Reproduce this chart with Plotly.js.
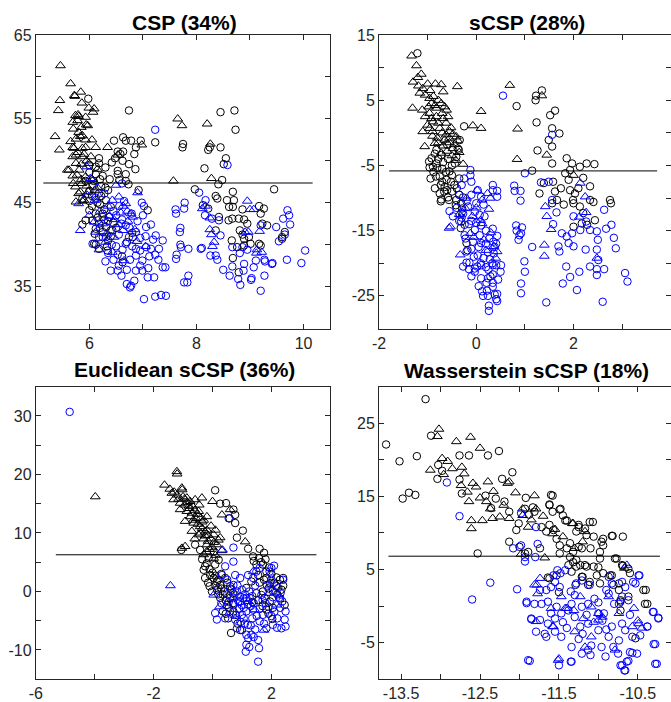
<!DOCTYPE html>
<html>
<head>
<meta charset="utf-8">
<script src="https://cdn.plot.ly/plotly-3.0.1.min.js"></script>
<style>html,body{margin:0;padding:0;background:#fff;}#chart{width:671px;height:702px;}</style>
</head>
<body>
<div id="chart"></div>
<script>
// ---------- Panel titles ----------
const panelTitles = ["CSP (34%)", "sCSP (28%)", "Euclidean sCSP (36%)", "Wasserstein sCSP (18%)"];

// ---------- Panel 1: CSP ----------
const cspBlackTri = [[5.46,61.35],[5.65,59.2],[5.72,57.8],[5.84,58.2],[5.45,57.2],[5.42,56.0],[5.86,56.9],[6.09,56.2],[6.07,55.8],[5.74,55.4],[5.80,55.3],[5.93,55.2],[5.69,54.6],[5.97,54.2],[5.36,52.9],[5.80,53.4],[5.87,53.0],[5.75,52.6],[6.05,52.5],[5.44,51.3],[5.69,51.6],[5.93,51.6],[6.12,51.6],[6.34,51.6],[5.69,50.5],[5.87,50.5],[5.75,49.7],[5.59,48.9],[5.81,48.9],[5.69,48.2],[6.53,50.7],[6.98,51.9],[5.86,47.3],[5.80,46.1],[5.75,45.1],[5.90,45.3],[7.57,47.6],[7.65,55.0],[7.73,54.2],[8.20,54.4],[8.26,52.0],[8.28,47.9],[5.73,57.7],[5.99,56.3],[5.79,55.5],[5.94,54.3],[5.83,52.9],[5.93,52.5],[5.71,51.5],[5.87,51.5],[5.75,50.7],[5.90,50.8],[6.03,50.5],[5.62,48.9],[5.99,49.7],[5.77,48.3],[5.93,48.1],[5.74,46.9],[5.83,46.3],[5.98,46.3],[5.87,45.2],[6.05,47.8],[6.15,49.0],[5.95,47.0],[6.10,46.5],[5.70,53.8],[5.78,54.8],[5.85,54.0],[5.65,52.3],[5.78,51.0],[5.95,50.0],[5.85,49.6],[5.70,47.3],[5.85,47.8]];
const cspBlackCirc = [[5.98,57.4],[6.74,56.0],[6.18,50.3],[6.18,49.7],[6.46,52.4],[6.63,52.8],[6.68,52.4],[6.78,52.4],[6.96,52.4],[6.53,51.1],[6.63,51.1],[6.87,51.6],[6.84,50.8],[6.62,50.0],[6.74,49.6],[6.86,49.0],[6.53,48.8],[6.53,48.4],[6.68,48.4],[6.56,47.7],[6.68,47.6],[6.73,47.2],[6.92,46.5],[7.09,44.1],[6.25,48.2],[6.12,48.4],[6.00,48.6],[5.93,47.6],[6.06,47.0],[6.00,46.4],[6.18,46.1],[6.31,45.3],[5.87,45.5],[6.00,44.1],[6.12,43.7],[6.25,43.7],[6.37,43.3],[6.06,42.9],[5.93,42.9],[5.87,42.4],[6.18,42.5],[6.31,42.1],[6.12,41.9],[6.43,41.7],[6.25,40.9],[6.09,40.1],[6.18,39.5],[6.34,39.3],[6.62,37.9],[6.81,40.9],[7.74,51.6],[7.23,52.2],[6.12,40.0],[6.33,39.8],[6.61,38.6],[6.80,41.4],[8.45,55.8],[8.71,56.0],[8.73,53.7],[7.75,52.0],[8.25,51.6],[8.22,51.3],[8.45,51.6],[8.55,50.3],[8.51,49.6],[8.15,49.1],[8.48,47.7],[8.41,47.2],[7.97,46.6],[9.45,46.6],[8.68,46.3],[8.36,45.8],[8.39,45.5],[8.57,45.3],[8.70,45.3],[8.12,44.7],[8.22,44.3],[8.61,44.5],[8.68,44.5],[8.86,44.2],[9.17,44.6],[9.26,44.3],[9.20,43.7],[8.42,43.3],[8.60,42.9],[8.67,43.1],[8.79,43.1],[8.89,43.0],[8.95,42.5],[9.23,42.5],[9.32,42.3],[8.36,41.7],[9.65,41.5],[9.60,40.9],[8.81,41.7],[8.86,41.2],[8.89,40.7],[8.98,40.9],[8.66,40.5],[9.01,40.1],[9.17,40.1],[9.20,39.9],[8.76,39.7],[8.68,38.4],[8.79,36.7],[8.89,39.9],[9.60,40.7],[6.20,44.8],[6.28,44.2],[6.15,45.0],[6.40,44.5],[6.22,47.0],[6.30,46.8],[6.05,45.8],[6.45,42.6],[6.35,40.5],[6.70,40.3],[6.05,44.6],[6.15,43.2],[6.22,45.8],[6.35,46.5],[6.00,45.2],[6.10,41.3],[6.25,41.5],[6.40,41.0],[6.28,43.0],[6.50,42.0],[6.20,47.8],[6.08,47.6],[6.38,47.8],[6.30,49.2],[6.42,49.8],[6.48,50.3],[6.58,50.8],[6.12,49.3],[6.00,49.5]];
const cspBlueCirc = [[7.23,53.7],[6.61,47.3],[6.98,45.0],[7.02,44.6],[7.15,42.4],[7.06,42.1],[6.87,41.5],[6.74,40.9],[7.24,41.1],[7.37,40.5],[7.19,40.6],[7.06,39.7],[6.87,39.5],[6.62,39.4],[6.53,38.8],[6.76,38.2],[6.99,38.1],[7.12,38.6],[7.23,38.8],[7.29,38.2],[7.37,37.3],[7.42,37.3],[6.40,36.9],[6.53,36.9],[6.87,36.9],[6.99,36.9],[7.09,36.1],[7.21,36.1],[6.84,35.7],[6.78,35.1],[6.76,34.9],[7.02,33.5],[7.23,33.8],[7.34,34.0],[7.43,33.9],[6.61,43.0],[6.68,42.3],[6.40,41.7],[6.31,40.9],[6.18,40.9],[6.06,40.1],[6.50,39.8],[6.68,40.1],[6.25,43.3],[6.28,46.1],[6.12,45.6],[6.56,44.6],[6.79,43.7],[7.77,44.3],[7.62,43.7],[7.69,41.5],[7.71,39.7],[7.62,38.3],[7.77,35.5],[6.87,38.7],[8.58,49.5],[7.78,45.0],[8.17,45.3],[8.16,43.5],[8.42,42.9],[8.29,43.1],[8.45,41.1],[7.70,42.0],[7.70,40.0],[7.85,39.5],[8.08,39.5],[8.26,38.7],[8.36,38.7],[8.39,38.2],[8.50,37.0],[8.62,36.3],[8.78,35.9],[8.82,35.2],[9.02,35.8],[9.20,34.5],[9.27,36.3],[9.07,37.3],[9.11,38.1],[9.28,38.0],[9.41,37.7],[9.69,38.2],[9.96,37.8],[10.03,39.3],[9.54,40.4],[9.49,42.1],[9.65,41.2],[9.75,42.4],[9.70,44.1],[9.62,43.1],[9.20,42.3],[8.67,39.7],[8.81,39.0],[8.89,37.7],[8.67,37.4],[8.86,39.7],[8.95,39.4],[7.83,35.5],[7.85,36.3],[9.73,43.5],[9.27,38.2],[9.42,37.8],[8.88,36.9],[9.03,36.0],[8.10,39.6],[7.61,44.2],[7.63,38.8],[8.05,46.2],[6.45,44.0],[6.35,42.8],[6.55,41.2],[6.20,42.0],[6.65,45.2],[6.42,40.0],[6.90,42.8],[6.95,40.8],[7.05,41.0],[6.60,36.3],[6.70,35.3],[6.35,39.0],[6.55,37.5],[6.70,37.0],[6.95,37.5],[7.10,37.2],[6.80,39.8],[6.95,39.3],[7.15,39.5],[6.45,38.2],[6.30,38.0],[6.60,42.5],[6.75,42.0],[6.50,43.5],[7.30,39.5],[7.00,43.5]];
const cspBlueTri = [[5.83,41.7],[5.95,49.3],[6.50,47.1],[6.90,46.2],[6.55,45.7],[6.43,45.3],[6.63,44.6],[6.71,44.0],[6.78,43.7],[6.81,43.3],[6.59,43.8],[6.37,43.4],[6.25,42.5],[6.09,42.7],[6.12,41.5],[6.32,41.3],[6.46,40.9],[6.63,41.7],[6.18,39.4],[6.43,39.1],[6.65,38.1],[6.68,44.9],[6.46,43.0],[7.05,39.8],[6.89,40.4],[6.02,47.9],[6.10,45.3],[5.96,45.9],[5.80,44.9],[8.95,45.2],[9.07,44.2],[9.18,41.6],[8.97,41.5],[8.91,41.5],[8.17,44.6],[8.25,43.2],[8.25,41.8],[8.28,41.2],[8.30,39.8],[8.33,40.3],[8.11,44.3],[9.12,39.0],[9.22,39.1],[9.0,44.2],[9.13,39.4],[6.20,44.0],[6.35,44.6],[6.30,40.3],[6.55,42.4],[6.72,42.8],[6.85,41.8],[6.00,43.5],[6.15,46.8]];
const cspLineX = [5.14, 10.17];
const cspLineY = [47.35, 47.35];

// ---------- Panel 2: sCSP ----------
const scspBlackTri = [[-1.33,11.8],[-1.23,10.3],[-1.13,9.0],[-1.30,7.8],[-1.00,7.5],[-0.84,7.5],[-0.72,7.4],[-0.39,7.1],[-1.19,7.2],[-1.16,6.1],[-0.68,6.3],[-0.96,5.3],[-0.92,4.5],[-1.31,3.8],[-1.11,3.5],[-0.82,3.8],[-0.61,3.5],[0.10,3.3],[-0.96,3.0],[-0.82,2.5],[-0.68,2.2],[-0.07,1.1],[0.10,0.7],[-0.89,1.7],[-0.96,0.7],[-0.75,0.7],[-0.55,0.2],[-0.41,-0.6],[-1.06,-2.1],[-0.85,-1.6],[-0.65,-1.1],[-0.72,-3.1],[-0.48,-2.4],[-0.27,-4.8],[0.84,-4.06],[0.85,0.6],[0.69,7.3],[1.45,-3.4],[1.35,5.7],[2.0,-6.5],[-1.0,1.2],[-0.9,-0.5],[-0.78,-1.5],[-0.6,-2.8],[-0.55,-0.8],[-0.5,-3.5],[-0.7,0.0],[-0.62,1.5],[-1.1,0.2],[-0.45,-1.8],[-0.85,4.2],[-1.2,8.5],[-1.1,6.8],[-1.05,5.8],[-0.95,6.5],[-0.88,5.6],[-0.78,5.0],[-0.72,4.5],[-0.65,4.0],[-0.98,4.0],[-1.05,2.5],[-0.92,2.2],[-0.78,1.5],[-0.7,3.0],[-0.58,2.5],[-0.52,0.8],[-0.48,-0.2],[-0.38,-1.2],[-0.35,-3.0],[-0.42,-4.2],[-0.9,0.2],[-0.8,-0.8],[-0.62,-0.3],[-0.68,-2.0],[-0.55,-1.5]];
const scspBlackCirc = [[-1.21,12.2],[-0.25,1.0],[0.83,4.1],[1.24,1.6],[1.22,5.0],[1.23,5.7],[1.35,6.5],[1.26,-2.7],[1.52,2.7],[1.62,3.4],[1.56,0.7],[1.71,-0.1],[1.49,-1.1],[1.56,-2.1],[1.56,-4.7],[1.15,-5.8],[1.30,-9.3],[1.39,-7.7],[1.58,-7.5],[1.62,-9.0],[1.66,-10.3],[1.56,-10.8],[1.80,-11.0],[1.74,-8.5],[1.90,-7.2],[1.86,-3.9],[1.97,-4.7],[1.93,-5.7],[1.83,-6.2],[2.13,-5.2],[2.27,-4.7],[2.43,-4.8],[2.20,-6.9],[1.93,-8.8],[2.03,-9.3],[2.10,-8.5],[1.99,-10.3],[2.0,-10.8],[2.13,-11.3],[2.34,-8.2],[2.34,-10.3],[2.2,-12.3],[2.17,-13.9],[2.0,-14.4],[2.28,-14.1],[2.44,-13.4],[2.41,-10.6],[2.75,-10.3],[2.77,-10.8],[-0.92,-3.9],[-0.89,-5.2],[-0.96,-5.3],[-0.82,-4.7],[-0.75,-6.7],[-0.61,-7.2],[-0.65,-8.3],[-0.75,-9.3],[-0.72,-10.2],[-0.58,-9.9],[-0.41,-10.3],[-0.31,-10.8],[-0.27,-9.9],[-0.55,-5.9],[-0.44,-4.7],[-0.34,-1.1],[-0.38,-2.4],[-0.41,-3.7],[-0.31,-13.6],[-0.20,-16.9],[-0.82,-2.6],[-0.72,-3.4],[-0.94,-7.0],[-0.83,-6.7],[-0.73,-8.0],[-0.80,-5.4],[-0.66,-9.0],[-0.73,-10.5],[-0.56,-10.3],[-0.42,-11.1],[-0.29,-11.6],[-0.32,-14.6],[-0.18,-18.0],[-0.97,-4.4],[-0.36,-2.6],[-0.5,-6.5],[-0.45,-8.0],[-0.6,-1.8],[-0.7,-5.5],[-0.35,-7.0],[-0.85,-3.2],[-0.78,-4.0],[-0.68,-4.5],[-0.58,-4.0],[-0.5,-5.0],[-0.62,-6.0],[-0.52,-7.5],[-0.4,-8.5],[-0.5,-9.0],[-0.6,-8.8],[-0.35,-9.5],[-0.3,-12.2],[-0.85,-8.5],[-0.88,-6.0],[-0.7,-7.5]];
const scspBlueCirc = [[0.55,5.7],[-0.12,-6.5],[1.0,-6.2],[0.79,-8.9],[0.91,-10.4],[0.43,-9.8],[0.34,-8.8],[0.03,-8.8],[0.83,-15.0],[0.87,-16.4],[0.92,-15.4],[1.15,-17.5],[1.0,-21.3],[0.92,-24.6],[1.49,-7.5],[1.33,-7.6],[1.56,-10.3],[1.58,-14.0],[1.65,-12.2],[1.76,-15.4],[1.69,-17.4],[1.71,-18.2],[1.85,-20.5],[1.78,-23.1],[1.93,-22.1],[2.07,-24.1],[2.12,-21.3],[2.0,-17.4],[1.97,-15.4],[2.0,-12.8],[2.25,-17.9],[2.34,-20.5],[2.48,-21.8],[2.48,-20.9],[2.51,-19.5],[2.48,-17.9],[2.48,-15.1],[2.5,-16.4],[2.63,-20.9],[2.6,-25.9],[2.67,-14.7],[2.63,-11.8],[2.78,-14.1],[2.83,-16.1],[2.87,-17.7],[3.06,-21.5],[3.11,-22.8],[2.34,-14.9],[2.26,-13.6],[2.14,-14.9],[1.86,-15.9],[1.9,-16.9],[1.44,-26.0],[1.56,-0.3],[-0.12,-5.7],[-0.10,-7.5],[0.34,-8.0],[0.43,-8.9],[0.78,-8.1],[0.91,-8.9],[0.82,-14.2],[0.94,-14.5],[0.89,-15.7],[0.99,-19.7],[0.92,-23.1],[-0.48,-12.8],[-0.17,-11.3],[-0.03,-12.1],[0.07,-12.6],[0.17,-12.8],[-0.24,-14.1],[-0.03,-14.9],[0.07,-15.7],[-0.07,-16.7],[0.10,-16.9],[0.27,-16.2],[0.34,-14.7],[0.38,-17.5],[0.24,-18.3],[0.03,-18.8],[-0.14,-19.9],[-0.20,-19.9],[-0.03,-20.8],[0.10,-20.3],[0.20,-20.6],[0.34,-20.3],[0.41,-20.3],[0.51,-20.3],[0.10,-22.3],[0.24,-22.3],[0.34,-21.7],[0.34,-23.0],[0.12,-24.3],[0.22,-24.2],[0.38,-24.8],[0.43,-24.7],[0.26,-26.5],[-0.27,-12.4],[-0.24,-15.7],[-0.22,-16.2],[-0.27,-20.5],[-0.15,-20.9],[-0.03,-21.3],[0.02,-20.5],[0.09,-20.0],[0.28,-19.4],[0.35,-16.7],[0.43,-15.8],[0.41,-17.0],[0.36,-18.5],[0.33,-20.0],[0.5,-21.3],[0.29,-22.0],[0.21,-23.0],[0.34,-23.6],[0.14,-25.0],[0.24,-25.0],[0.41,-25.5],[0.43,-25.8],[0.26,-27.3],[-0.35,-9.5],[-0.2,-10.5],[-0.1,-13.5],[0.0,-10.8],[-0.4,-11.5],[-0.55,-12.0],[-0.3,-8.0],[0.15,-11.0],[-0.3,-13.0],[-0.15,-14.0],[0.0,-13.8],[0.1,-14.2],[0.2,-15.0],[-0.1,-17.8],[0.05,-17.5],[0.2,-17.0],[-0.05,-19.0],[0.15,-19.2],[0.25,-21.0],[-0.1,-22.0],[0.05,-23.5],[0.45,-22.5],[-0.2,-18.2],[-0.35,-13.5],[-0.1,-9.5],[0.1,-9.8],[-0.25,-7.0]];
const scspBlueTri = [[0.02,-8.8],[0.23,-9.3],[0.12,-10.3],[0.26,-11.7],[0.29,-10.0],[-0.53,-14.4],[-0.56,-14.6],[-0.33,-18.7],[0.09,-13.4],[0.12,-13.9],[-0.08,-12.8],[0.36,-17.4],[0.40,-19.2],[0.43,-18.2],[-0.22,-11.6],[0.16,-16.4],[-0.12,-15.4],[1.42,-11.3],[1.45,-12.8],[1.54,-14.8],[1.40,-17.2],[1.40,-18.9],[2.14,-7.7],[2.24,-9.8],[2.26,-12.2],[2.12,-12.9],[2.48,-19.2],[-0.2,-10.0],[0.0,-11.5],[-0.35,-12.5],[0.3,-15.3],[0.2,-18.0],[-0.05,-16.0]];
const scspLineX = [-1.79, 3.72];
const scspLineY = [-5.84, -5.84];

// ---------- Panel 3: Euclidean sCSP ----------
const eucBlackTri = [[-3.98,16.2],[-1.21,20.5],[-1.20,20.1],[-1.63,18.2],[-1.38,16.8],[-1.04,17.7],[-1.03,17.4],[-1.32,15.7],[-1.10,15.1],[-0.87,16.0],[-0.76,15.4],[-0.59,15.7],[-0.36,16.0],[0.0,15.4],[-1.10,14.0],[-0.87,13.7],[-0.70,13.4],[-0.47,13.7],[-0.19,12.8],[-0.93,12.0],[-0.64,11.7],[-0.42,11.1],[-0.19,10.5],[-0.70,10.3],[-0.47,9.7],[0.04,9.7],[0.26,9.2],[0.15,8.0],[1.11,8.5],[-0.93,7.7],[-1.04,7.4],[-0.19,8.0],[-0.30,6.3],[0.04,5.7],[0.32,7.0],[0.60,14.0],[0.32,13.1],[-0.8,14.6],[-0.55,12.5],[-0.35,11.9],[-0.6,9.0],[-0.25,9.5],[-0.1,7.2],[-0.45,14.8],[-0.95,15.8],[-1.45,17.5],[-1.3,17.0],[-1.2,16.5],[-1.15,15.8],[-1.0,16.2],[-0.95,14.8],[-0.85,15.2],[-0.78,14.2],[-0.68,14.6],[-0.6,13.9],[-0.52,13.2],[-0.4,12.6],[-0.3,12.2],[-0.75,12.8],[-0.65,12.2],[-0.5,11.5],[-0.35,10.8],[-0.25,10.2],[-0.15,9.6],[-0.05,9.0],[0.05,8.4],[-0.4,10.0],[-0.3,9.0],[-0.15,8.6],[0.1,10.5],[-0.05,11.2],[0.2,8.8],[0.0,7.5],[-0.2,6.8],[0.1,6.2]];
const eucBlackCirc = [[0.09,17.3],[0.26,15.0],[0.46,15.1],[0.71,14.0],[0.77,13.1],[0.58,12.5],[0.77,11.7],[1.03,10.4],[0.83,9.2],[1.21,7.3],[1.38,6.0],[1.60,7.3],[1.75,6.6],[1.58,5.7],[1.49,4.6],[1.71,4.6],[1.92,4.1],[1.83,3.4],[1.55,2.8],[1.83,2.3],[1.95,1.4],[2.17,2.4],[2.29,2.0],[2.40,2.3],[2.17,0.9],[2.34,0.3],[2.05,0.1],[1.71,0.0],[1.49,-0.3],[1.77,-1.1],[1.95,-1.7],[2.05,-2.8],[1.83,-3.1],[2.03,-4.7],[2.45,-2.3],[1.35,-1.8],[1.15,0.6],[1.32,1.7],[-0.59,8.0],[-0.42,7.1],[-0.25,4.3],[-0.08,2.8],[-0.10,0.9],[0.04,2.3],[0.15,1.7],[0.26,1.1],[0.43,2.3],[0.40,0.0],[0.26,-1.1],[0.60,-1.1],[0.49,-2.3],[0.35,-3.4],[0.71,-3.4],[0.63,-7.1],[0.94,-6.6],[-0.30,3.7],[-0.13,5.7],[0.09,4.6],[0.21,5.4],[0.04,6.8],[-0.25,2.3],[-0.02,0.0],[0.15,0.3],[0.60,0.9],[0.69,-0.3],[0.53,-4.6],[-1.06,7.1],[-0.35,5.5],[-0.2,4.8],[-0.1,3.8],[0.0,3.2],[0.1,2.7],[0.2,2.0],[0.3,0.5],[0.35,-0.5],[0.45,-1.5],[0.55,-2.8],[0.2,-0.5],[0.1,1.0],[-0.15,1.5],[0.3,3.0],[0.5,1.5],[0.65,0.3],[0.7,-2.0],[0.8,-4.0],[0.45,-3.8],[0.85,-5.5],[1.4,5.2],[1.65,5.0],[1.8,5.5],[2.0,3.0],[2.1,1.5],[1.9,0.5],[2.2,-0.5],[1.6,1.5],[1.75,2.0],[2.3,-1.2],[1.55,-1.5],[1.7,-2.5],[1.9,-3.8],[2.4,1.0]];
const eucBlueCirc = [[-4.85,30.7],[0.55,12.5],[0.71,7.5],[0.43,4.3],[0.32,2.8],[0.77,2.8],[0.94,2.3],[0.71,1.1],[1.0,0.3],[1.15,-1.1],[0.94,-1.7],[0.71,-2.3],[0.60,-3.4],[0.43,-4.6],[0.77,-4.8],[1.06,-4.6],[1.20,-5.7],[1.0,-6.6],[1.15,-7.4],[1.21,-8.0],[1.32,-7.4],[1.15,-9.1],[1.13,-10.3],[1.55,-8.3],[1.58,-9.7],[1.55,-12.0],[1.35,-4.6],[1.60,-5.1],[1.71,-4.0],[1.83,-6.3],[2.05,-5.7],[2.19,-6.2],[2.34,-6.3],[2.48,-6.0],[2.45,-4.8],[2.48,-3.4],[2.37,-1.7],[2.26,-1.1],[2.05,-1.0],[2.0,4.0],[2.09,4.4],[1.94,3.4],[1.60,4.0],[1.49,3.4],[1.38,2.3],[1.21,2.8],[2.40,2.0],[2.31,-0.3],[2.23,0.6],[1.66,-0.6],[0.71,5.1],[0.15,-4.8],[0.09,-3.7],[0.83,-6.3],[1.38,-3.1],[0.88,-1.7],[1.06,-2.8],[1.15,-3.4],[0.99,-2.3],[1.26,-1.1],[0.83,0.0],[0.94,-0.9],[1.1,-0.5],[1.3,-2.5],[0.5,-0.5],[1.45,-6.5],[1.25,-9.5],[1.8,-2.0],[2.1,-3.5],[0.6,0.5],[0.75,-0.5],[0.85,1.0],[0.9,-3.0],[1.0,-4.0],[1.05,-1.2],[1.2,-2.2],[1.25,0.0],[1.35,-0.8],[1.4,-2.0],[1.45,1.0],[1.5,-4.2],[1.1,-5.5],[0.95,-5.2],[0.7,-4.0],[0.55,-1.8],[1.3,-5.8],[1.4,-7.8],[1.6,-3.0],[1.7,-1.5],[1.9,-2.6],[2.0,-4.2],[2.2,-4.6],[2.3,-2.8],[2.0,2.0],[2.15,-0.2],[1.85,1.0],[1.75,-5.5],[0.5,2.0],[0.3,-2.0],[0.2,0.5]];
const eucBlueTri = [[-1.43,1.0],[0.34,7.1],[0.04,-0.6],[0.24,-2.6],[1.43,-3.1],[1.75,-6.6],[1.92,-0.3],[0.71,-1.1],[1.21,-1.7],[2.17,-2.3],[1.38,3.4],[1.96,1.1]];
const eucLineX = [-5.32, 3.53];
const eucLineY = [6.27, 6.27];

// ---------- Panel 4: Wasserstein sCSP ----------
const wasBlackCirc = [[-13.19,28.3],[-13.69,22.1],[-13.52,19.8],[-13.30,20.5],[-13.48,14.7],[-13.40,15.5],[-13.32,15.2],[-13.12,23.3],[-13.03,19.3],[-13.04,17.4],[-12.98,18.5],[-12.76,20.6],[-12.76,17.3],[-12.73,15.4],[-12.64,20.6],[-12.40,20.6],[-12.26,21.2],[-12.53,7.2],[-12.43,15.1],[-12.36,13.4],[-12.22,17.4],[-12.09,18.3],[-12.30,14.7],[-12.19,14.3],[-12.13,12.9],[-12.13,8.8],[-12.0,8.1],[-11.93,7.2],[-11.89,7.4],[-12.04,10.4],[-12.01,11.3],[-11.93,13.3],[-11.92,14.8],[-11.88,12.5],[-11.83,13.5],[-11.81,12.9],[-11.58,15.1],[-11.62,13.9],[-11.58,12.9],[-11.48,13.3],[-11.45,12.4],[-11.40,11.7],[-11.62,11.1],[-11.57,10.4],[-11.66,10.2],[-11.72,10.8],[-11.74,7.9],[-11.53,9.2],[-11.49,8.3],[-11.40,7.9],[-11.32,7.4],[-11.36,8.6],[-11.28,6.3],[-11.28,10.2],[-11.25,11.1],[-11.17,10.6],[-11.15,9.7],[-11.07,11.5],[-11.06,9.5],[-11.10,7.9],[-10.96,8.8],[-10.94,9.2],[-10.98,7.4],[-10.98,6.5],[-10.82,9.6],[-10.69,9.5],[-10.77,6.5],[-10.69,5.5],[-10.60,4.5],[-10.83,4.2],[-10.94,4.5],[-11.06,5.4],[-11.17,5.6],[-11.28,5.4],[-11.32,6.0],[-11.34,4.7],[-11.20,4.0],[-11.11,3.3],[-10.98,3.1],[-10.74,3.1],[-10.62,1.3],[-10.72,0.6],[-10.72,-0.6],[-10.40,2.2],[-10.38,0.3],[-10.53,-4.4],[-11.53,4.2],[-11.50,1.9],[-11.62,3.8],[-11.60,15.2],[-11.62,13.8],[-11.49,13.2],[-11.42,11.7],[-11.25,10.8],[-11.11,11.5],[-10.83,9.6],[-10.94,8.3],[-11.21,7.9],[-10.79,6.5],[-10.70,5.6],[-10.62,5.1],[-10.43,2.2],[-10.41,0.3],[-10.85,4.2],[-11.02,4.2],[-11.13,2.9],[-11.21,4.0],[-11.29,2.9],[-11.64,3.9],[-11.38,5.6],[-11.23,5.6],[-11.15,5.4],[-11.0,5.3],[-10.81,2.9],[-10.74,2.2],[-10.72,0.8],[-11.36,6.7],[-11.49,7.2],[-11.25,8.1]];
const wasBlackTri = [[-13.02,24.2],[-13.04,23.2],[-13.13,18.6],[-12.98,20.2],[-12.91,19.8],[-12.96,18.0],[-12.80,22.5],[-12.62,23.1],[-12.50,21.6],[-12.73,19.0],[-12.70,18.1],[-12.74,16.5],[-12.66,15.6],[-12.59,16.8],[-12.55,16.3],[-12.64,14.3],[-12.61,11.7],[-12.61,10.6],[-12.47,11.7],[-12.40,17.0],[-12.33,15.7],[-12.42,14.3],[-12.37,13.3],[-12.34,12.0],[-12.25,12.2],[-12.13,12.0],[-12.13,17.0],[-11.96,13.3],[-11.96,12.4],[-11.89,10.8],[-11.98,7.1],[-11.81,15.1],[-11.79,13.3],[-11.68,6.6],[-11.33,11.3],[-11.17,10.2],[-11.30,7.9],[-10.67,5.2],[-11.58,9.9],[-11.32,11.3],[-12.85,18.8],[-12.5,14.8],[-12.2,13.8],[-12.05,15.5],[-11.85,11.8],[-11.7,12.3],[-11.55,10.5],[-11.45,9.5],[-11.2,8.8],[-12.15,16.8]];
const wasBlueCirc = [[-12.92,16.9],[-12.76,12.3],[-11.98,12.7],[-11.79,10.8],[-12.08,7.9],[-11.93,6.1],[-12.37,3.2],[-12.60,0.9],[-12.03,2.3],[-11.91,0.4],[-11.85,-1.8],[-11.87,-7.5],[-11.77,8.5],[-11.50,-8.1],[-11.35,-7.6],[-10.72,-8.1],[-10.67,-8.8],[-10.62,-7.5],[-10.51,-6.5],[-10.60,-6.3],[-10.28,-5.2],[-10.24,-1.6],[-10.31,-0.8],[-10.26,-7.9],[-10.48,4.2],[-10.56,3.3],[-10.38,-2.8],[-11.98,8.3],[-11.52,4.9],[-11.48,4.5],[-11.42,4.9],[-11.57,4.2],[-11.55,3.3],[-11.49,2.6],[-11.60,2.6],[-11.66,2.2],[-11.74,2.2],[-11.28,3.1],[-11.21,3.5],[-11.11,2.9],[-10.87,4.0],[-10.83,3.1],[-10.70,3.3],[-10.66,2.6],[-10.49,4.2],[-10.53,3.1],[-10.70,1.3],[-10.62,0.8],[-10.74,0.3],[-10.87,1.7],[-11.13,0.3],[-11.21,-0.1],[-11.34,0.3],[-11.38,-0.6],[-11.47,-1.0],[-11.53,-0.1],[-11.64,0.6],[-11.72,0.3],[-11.81,0.3],[-11.91,0.6],[-11.85,-1.7],[-11.74,-1.9],[-11.64,-2.4],[-11.55,-1.7],[-11.23,-2.8],[-11.13,-2.4],[-11.0,-3.3],[-10.87,-4.2],[-10.83,-2.8],[-10.70,-2.4],[-10.66,-3.3],[-10.57,-4.2],[-10.47,-4.0],[-10.38,-2.8],[-10.30,-0.8],[-10.24,-1.7],[-10.74,-4.7],[-10.81,-5.6],[-10.96,-5.6],[-11.09,-5.4],[-11.13,-6.0],[-11.21,-6.5],[-11.34,-5.6],[-11.47,-4.2],[-11.55,-3.5],[-11.66,-4.2],[-11.68,-3.8],[-11.79,-3.5],[-11.89,-7.4],[-11.34,-7.6],[-11.10,-6.7],[-10.91,-6.9],[-10.70,-8.1],[-10.66,-8.8],[-10.64,-7.6],[-10.57,-6.4],[-10.30,-5.2],[-10.28,-7.9],[-11.0,-1.0],[-10.93,-1.0],[-11.93,6.7],[-11.80,6.7],[-11.3,1.5],[-11.05,1.0],[-10.95,-2.0],[-11.4,-3.0],[-11.25,-4.5],[-10.9,2.2],[-11.15,-1.2],[-11.45,-2.2],[-11.3,-1.5],[-11.2,-3.8],[-10.9,-3.2],[-10.8,0.3],[-11.0,0.5],[-11.35,2.0],[-11.6,-1.0],[-10.6,-1.2],[-10.75,-6.5]];
const wasBlueTri = [[-11.81,2.9],[-11.77,1.7],[-11.60,-0.3],[-11.47,1.3],[-11.23,1.3],[-11.09,-0.1],[-11.0,-1.0],[-11.57,-2.8],[-11.42,-0.3],[-11.31,-0.6],[-11.19,-1.7],[-11.06,-2.2],[-10.95,-1.5],[-10.74,-1.0],[-10.55,-0.3],[-10.49,-2.4],[-10.57,-2.8],[-11.17,-5.6],[-10.79,-6.0],[-11.30,-3.5],[-11.51,-7.4],[-11.09,-4.2],[-11.00,-1.9],[-10.87,1.3],[-11.50,-7.2],[-11.79,-2.1],[-11.58,-2.8],[-11.78,2.9],[-11.74,3.8],[-11.40,-0.3],[-10.64,5.6],[-10.45,-3.0],[-10.5,-2.0]];
const wasLineX = [-13.66, -10.22];
const wasLineY = [6.82, 6.82];

// ---------- Axis ticks (labels on every other tick) ----------
const p1XTicks = [5,6,7,8,9,10];        const p1XLabels = ["","6","","8","","10"];
const p1YTicks = [30,35,40,45,50,55,60,65]; const p1YLabels = ["","35","","45","","55","","65"];
const p2XTicks = [-2,-1,0,1,2,3,4];     const p2XLabels = ["-2","","0","","2","","4"];
const p2YTicks = [-30,-25,-20,-15,-10,-5,0,5,10,15]; const p2YLabels = ["","-25","","-15","","-5","","5","","15"];
const p3XTicks = [-6,-4,-2,0,2,4];      const p3XLabels = ["-6","","-2","","2",""];
const p3YTicks = [-15,-10,-5,0,5,10,15,20,25,30,35]; const p3YLabels = ["","-10","","0","","10","","20","","30",""];
const p4XTicks = [-13.5,-13,-12.5,-12,-11.5,-11,-10.5]; const p4XLabels = ["-13.5","","-12.5","","-11.5","","-10.5"];
const p4YTicks = [-10,-5,0,5,10,15,20,25,30]; const p4YLabels = ["","-5","","5","","15","","25",""];

// ---------- Build traces ----------
const BLACK = "#000000", BLUE = "#0000ff";
function markers(arr, ax, symbol, color, size) {
  return {type: "scatter", mode: "markers", xaxis: "x" + ax, yaxis: "y" + ax,
    x: arr.map(p => p[0]), y: arr.map(p => p[1]), hoverinfo: "skip",
    marker: {symbol: symbol, size: size, color: color, line: {color: color, width: 1}}};
}
function hline(xs, ys, ax) {
  return {type: "scatter", mode: "lines", xaxis: "x" + ax, yaxis: "y" + ax, x: xs, y: ys,
    line: {color: "#000000", width: 1}, hoverinfo: "skip"};
}
const panels = [
  {ax: "", bc: cspBlackCirc, bt: cspBlackTri, uc: cspBlueCirc, ut: cspBlueTri, lx: cspLineX, ly: cspLineY},
  {ax: "2", bc: scspBlackCirc, bt: scspBlackTri, uc: scspBlueCirc, ut: scspBlueTri, lx: scspLineX, ly: scspLineY},
  {ax: "3", bc: eucBlackCirc, bt: eucBlackTri, uc: eucBlueCirc, ut: eucBlueTri, lx: eucLineX, ly: eucLineY},
  {ax: "4", bc: wasBlackCirc, bt: wasBlackTri, uc: wasBlueCirc, ut: wasBlueTri, lx: wasLineX, ly: wasLineY}
];
const traces = [];
panels.forEach(p => {
  traces.push(markers(p.bc, p.ax, "circle-open", BLACK, 7.5));
  traces.push(markers(p.bt, p.ax, "triangle-up-open", BLACK, 8.5));
  traces.push(markers(p.uc, p.ax, "circle-open", BLUE, 7.5));
  traces.push(markers(p.ut, p.ax, "triangle-up-open", BLUE, 8.5));
  traces.push(hline(p.lx, p.ly, p.ax));
});

const AXC = "#262626";
const tickFont = {family: "Liberation Sans, Arial, Helvetica, sans-serif", size: 16, color: AXC};
function axis(domain, range, vals, text, anchor) {
  return {domain: domain, range: range, tickmode: "array", tickvals: vals, ticktext: text,
    ticks: "inside", ticklen: 5, tickwidth: 1, tickcolor: AXC, showline: true, linecolor: AXC,
    linewidth: 1, mirror: "ticks", showgrid: false, zeroline: false, tickfont: tickFont,
    anchor: anchor, fixedrange: true};
}
const W = 671, H = 702;
const colL = [35.8 / W, 330.3 / W], colR = [379 / W, 1];
const rowT = [1 - 328.5 / H, 1 - 35 / H], rowB = [1 - 679.2 / H, 1 - 386.7 / H];

const titleFont = {family: "Liberation Sans, Arial, Helvetica, sans-serif", size: 21, color: "#000000", weight: "bold"};
function titleAnn(text, xpx, ypx) {
  return {text: text, xref: "paper", yref: "paper", x: xpx / W, y: 1 - ypx / H,
    xanchor: "center", yanchor: "middle", showarrow: false, font: titleFont};
}

const layout = {
  width: W, height: H, margin: {l: 0, r: 0, t: 0, b: 0},
  paper_bgcolor: "#ffffff", plot_bgcolor: "#ffffff", showlegend: false,
  xaxis: axis(colL, [5, 10.5], p1XTicks, p1XLabels, "y"),
  yaxis: axis(rowT, [30, 65], p1YTicks, p1YLabels, "x"),
  xaxis2: axis(colR, [-2, 4.005], p2XTicks, p2XLabels, "y2"),
  yaxis2: axis(rowT, [-30, 15], p2YTicks, p2YLabels, "x2"),
  xaxis3: axis(colL, [-6, 4], p3XTicks, p3XLabels, "y3"),
  yaxis3: axis(rowB, [-15, 35], p3YTicks, p3YLabels, "x3"),
  xaxis4: axis(colR, [-13.78, -10.08], p4XTicks, p4XLabels, "y4"),
  yaxis4: axis(rowB, [-10, 30], p4YTicks, p4YLabels, "x4"),
  annotations: [
    titleAnn(panelTitles[0], 185, 23),
    titleAnn(panelTitles[1], 527, 23),
    titleAnn(panelTitles[2], 185, 369),
    titleAnn(panelTitles[3], 526, 370)
  ]
};

Plotly.newPlot("chart", traces, layout, {displayModeBar: false, staticPlot: true});
</script>
</body>
</html>
